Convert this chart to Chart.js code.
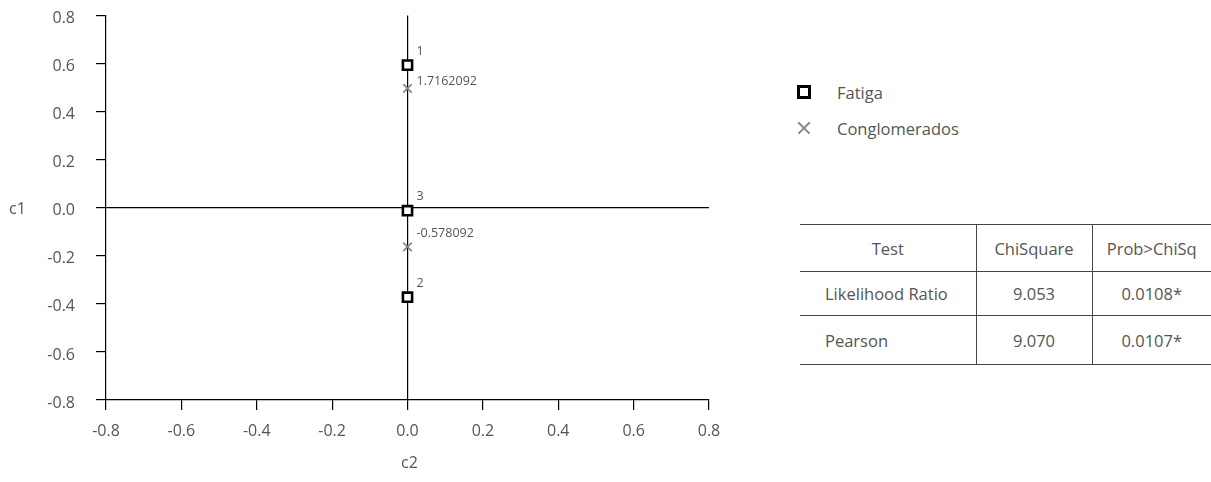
<!DOCTYPE html>
<html>
<head>
<meta charset="utf-8">
<script src="https://cdn.jsdelivr.net/npm/chart.js@4"></script>
<style>
  body{margin:0;background:#fff;font-family:"Open Sans",sans-serif;color:#555;overflow:hidden;}
  #wrap{position:absolute;left:0;top:-15px;width:760px;height:497px;}
  .axt{position:absolute;font-size:16px;color:#555;}
  #legend{position:absolute;left:797px;top:74px;font-size:16.5px;}
  #legend div{height:36px;display:flex;align-items:center;}
  .sq{width:8px;height:8px;border:3px solid #000;margin-left:0;margin-right:26px;}
  .xx{position:relative;width:14px;height:14px;margin-right:26px;}
  .xx:before,.xx:after{content:"";position:absolute;left:-1px;top:6px;width:16px;height:1.6px;background:#888;}
  .xx:before{transform:rotate(45deg);} .xx:after{transform:rotate(-45deg);}
  table{position:absolute;left:800px;top:224px;width:411px;border-collapse:collapse;table-layout:fixed;font-size:16.5px;color:#555;}
  td{border-top:1.5px solid #444;border-bottom:1.5px solid #444;text-align:center;padding:0;white-space:nowrap;}
  td+td{border-left:1.5px solid #444;}
  tr.h td{height:46px;} tr.r1 td{height:43px;} tr.r2 td{height:48px;}
  td.l{text-align:left;padding-left:25px;}
</style>
</head>
<body>
<div id="wrap"><canvas id="c"></canvas></div>
<div class="axt" style="left:9px;top:197px;">c1</div>
<div class="axt" style="left:401px;top:451px;">c2</div>
<div id="legend">
  <div><span class="sq"></span><span id="lg0"></span></div>
  <div><span class="xx"></span><span id="lg1"></span></div>
</div>
<table id="tbl">
  <colgroup><col style="width:176px"><col style="width:116px"><col style="width:119px"></colgroup>
  <tbody id="tb"></tbody>
</table>
<script>
// datos
const seriesNames = ["Fatiga", "Conglomerados"];
const fatigaX = [0, 0, 0];
const fatigaY = [0.594, -0.372, -0.012];
const fatigaLbl = ["1", "2", "3"];
const congX = [0, 0];
const congY = [0.497, -0.163];
const congLbl = ["1.7162092", "-0.578092"];
const ticks = [-0.8, -0.6, -0.4, -0.2, 0.0, 0.2, 0.4, 0.6, 0.8];
const testHead = ["Test", "ChiSquare", "Prob>ChiSq"];
const testNames = ["Likelihood Ratio", "Pearson"];
const chiSq = ["9.053", "9.070"];
const probs = ["0.0108*", "0.0107*"];

document.getElementById("lg0").textContent = seriesNames[0];
document.getElementById("lg1").textContent = seriesNames[1];

const tb = document.getElementById("tb");
tb.innerHTML = `<tr class="h">${testHead.map(t=>`<td>${t.replace(">","&gt;")}</td>`).join("")}</tr>` +
  testNames.map((n,i)=>`<tr class="r${i+1}"><td class="l">${n}</td><td>${chiSq[i]}</td><td>${probs[i]}</td></tr>`).join("");

const pts = (xs, ys) => xs.map((x,i)=>({x, y: ys[i]}));

const labelPlugin = {
  id: "ptLabels",
  afterDatasetsDraw(chart){
    const ctx = chart.ctx;
    ctx.save();
    ctx.font = "12.5px 'Open Sans'";
    ctx.fillStyle = "#555";
    ctx.textBaseline = "middle";
    chart.data.datasets.forEach((ds, di)=>{
      const meta = chart.getDatasetMeta(di);
      meta.data.forEach((el, i)=>{
        const dy = ds.lblDy ? ds.lblDy[i] : -14;
        ctx.fillText(ds.lbls[i], el.x + 9, el.y + dy);
      });
    });
    ctx.restore();
  }
};

const axisCommon = (pos) => ({
  type: "linear",
  position: pos,
  min: -0.8, max: 0.8,
  afterBuildTicks: s => { s.ticks = ticks.map(v=>({value:v})); },
  ticks: { color: "#555", font: { size: 16, family: "'Open Sans'" },
           padding: pos === "left" ? 21 : 12, labelOffset: pos === "left" ? 3 : 0,
           callback: v => v.toFixed(1) },
  grid: { drawOnChartArea: true, tickLength: 10, tickColor: "#000",
          color: c => (c.tick && c.tick.value === 0) ? "#000" : "rgba(0,0,0,0)", lineWidth: 1.2 },
  border: { display: true, color: "#000", width: 1.2 }
});

const xAxis = axisCommon("bottom");
xAxis.afterFit = s => { s.height = 82; };
const yAxis = axisCommon("left");
yAxis.afterFit = s => { s.width = 106; };

new Chart(document.getElementById("c"), {
  type: "scatter",
  data: {
    datasets: [
      { label: seriesNames[0], data: pts(fatigaX, fatigaY), lbls: fatigaLbl,
        pointStyle: "rect", pointRadius: 6.5, pointHoverRadius: 6.5, borderWidth: 2.6,
        borderColor: "#000", backgroundColor: "#fff" },
      { label: seriesNames[1], data: pts(congX, congY), lbls: congLbl, lblDy: [-7, -14],
        pointStyle: "crossRot", pointRadius: 6, pointHoverRadius: 6, borderWidth: 1.8,
        borderColor: "#888", backgroundColor: "#888" }
    ]
  },
  options: {
    responsive: true, maintainAspectRatio: false, animation: false,
    layout: { padding: { left: 0, top: 6, right: 51, bottom: 0 } },
    plugins: { legend: { display: false }, tooltip: { enabled: false } },
    scales: { x: xAxis, y: yAxis }
  },
  plugins: [labelPlugin]
});
</script>
</body>
</html>
